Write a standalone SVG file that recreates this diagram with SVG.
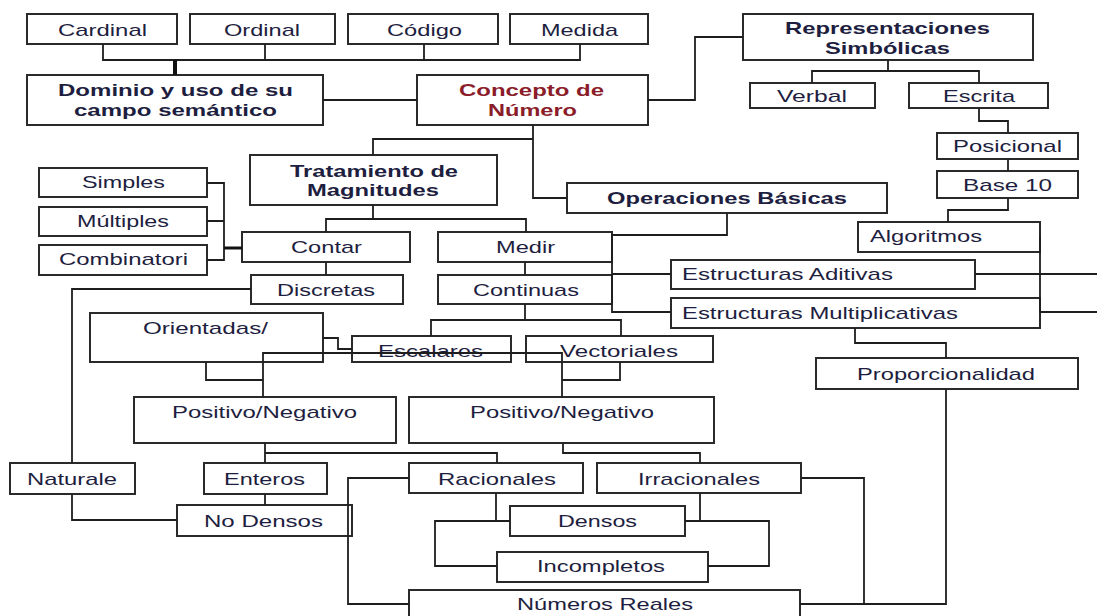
<svg xmlns="http://www.w3.org/2000/svg" width="1097" height="616" viewBox="0 0 1097 616">
<style>
.b{fill:#fff;stroke:#2a2a2a;stroke-width:2}
.t{font-family:"Liberation Sans",Arial,sans-serif;font-size:17px;fill:#1e1e40}
.h{font-weight:bold}
.r{fill:#8b1c2a}
.c{fill:none;stroke:#1e1e1e;stroke-width:1.8}
.k{fill:none;stroke:#111;stroke-width:4}
</style>
<rect width="1097" height="616" fill="#fff"/>
<g id="nodes">
<g id="cardinal"><rect class="b" x="27" y="14" width="150" height="30"/><text class="t" x="58" y="36" textLength="89" lengthAdjust="spacingAndGlyphs">Cardinal</text></g>
<g id="ordinal"><rect class="b" x="190" y="14" width="145" height="30"/><text class="t" x="224" y="36" textLength="76" lengthAdjust="spacingAndGlyphs">Ordinal</text></g>
<g id="codigo"><rect class="b" x="348" y="14" width="150" height="30"/><text class="t" x="387" y="36" textLength="75" lengthAdjust="spacingAndGlyphs">Código</text></g>
<g id="medida"><rect class="b" x="510" y="14" width="138" height="30"/><text class="t" x="541" y="36" textLength="77" lengthAdjust="spacingAndGlyphs">Medida</text></g>
<g id="dominio"><rect class="b" x="27" y="75" width="296" height="50"/><text class="t h" x="58" y="96" textLength="235" lengthAdjust="spacingAndGlyphs">Dominio y uso de su</text><text class="t h" x="74" y="116" textLength="203" lengthAdjust="spacingAndGlyphs">campo semántico</text></g>
<g id="concepto"><rect class="b" x="417" y="75" width="231" height="50"/><text class="t h r" x="459" y="96" textLength="145" lengthAdjust="spacingAndGlyphs">Concepto de</text><text class="t h r" x="488" y="116" textLength="89" lengthAdjust="spacingAndGlyphs">Número</text></g>
<g id="representaciones"><rect class="b" x="743" y="14" width="290" height="46"/><text class="t h" x="785" y="34" textLength="205" lengthAdjust="spacingAndGlyphs">Representaciones</text><text class="t h" x="825" y="54" textLength="125" lengthAdjust="spacingAndGlyphs">Simbólicas</text></g>
<g id="verbal"><rect class="b" x="750" y="83" width="125" height="25"/><text class="t" x="777" y="102" textLength="70" lengthAdjust="spacingAndGlyphs">Verbal</text></g>
<g id="escrita"><rect class="b" x="909" y="83" width="139" height="25"/><text class="t" x="943" y="102" textLength="72" lengthAdjust="spacingAndGlyphs">Escrita</text></g>
<g id="posicional"><rect class="b" x="937" y="133" width="141" height="26"/><text class="t" x="953" y="152" textLength="109" lengthAdjust="spacingAndGlyphs">Posicional</text></g>
<g id="base10"><rect class="b" x="937" y="171" width="141" height="27"/><text class="t" x="963" y="191" textLength="89" lengthAdjust="spacingAndGlyphs">Base 10</text></g>
<g id="algoritmos"><rect class="b" x="858" y="222" width="182" height="30"/><text class="t" x="870" y="242" textLength="112" lengthAdjust="spacingAndGlyphs">Algoritmos</text></g>
<g id="aditivas"><rect class="b" x="671" y="260" width="304" height="29"/><text class="t" x="682" y="280" textLength="211" lengthAdjust="spacingAndGlyphs">Estructuras Aditivas</text></g>
<g id="multiplicativas"><rect class="b" x="671" y="298" width="369" height="30"/><text class="t" x="682" y="319" textLength="276" lengthAdjust="spacingAndGlyphs">Estructuras Multiplicativas</text></g>
<g id="proporcionalidad"><rect class="b" x="816" y="358" width="262" height="31"/><text class="t" x="857" y="380" textLength="178" lengthAdjust="spacingAndGlyphs">Proporcionalidad</text></g>
<g id="operaciones"><rect class="b" x="567" y="183" width="320" height="30"/><text class="t h" x="607" y="204" textLength="240" lengthAdjust="spacingAndGlyphs">Operaciones Básicas</text></g>
<g id="tratamiento"><rect class="b" x="250" y="155" width="247" height="50"/><text class="t h" x="290" y="177" textLength="168" lengthAdjust="spacingAndGlyphs">Tratamiento de</text><text class="t h" x="307" y="196" textLength="132" lengthAdjust="spacingAndGlyphs">Magnitudes</text></g>
<g id="simples"><rect class="b" x="39" y="168" width="168" height="29"/><text class="t" x="82" y="188" textLength="83" lengthAdjust="spacingAndGlyphs">Simples</text></g>
<g id="multiples"><rect class="b" x="39" y="207" width="168" height="29"/><text class="t" x="77" y="227" textLength="92" lengthAdjust="spacingAndGlyphs">Múltiples</text></g>
<g id="combinatori"><rect class="b" x="39" y="245" width="168" height="30"/><text class="t" x="59" y="265" textLength="129" lengthAdjust="spacingAndGlyphs">Combinatori</text></g>
<g id="contar"><rect class="b" x="242" y="232" width="168" height="30"/><text class="t" x="291" y="253" textLength="71" lengthAdjust="spacingAndGlyphs">Contar</text></g>
<g id="discretas"><rect class="b" x="251" y="275" width="152" height="29"/><text class="t" x="277" y="296" textLength="98" lengthAdjust="spacingAndGlyphs">Discretas</text></g>
<g id="medir"><rect class="b" x="438" y="232" width="174" height="30"/><text class="t" x="496" y="253" textLength="59" lengthAdjust="spacingAndGlyphs">Medir</text></g>
<g id="continuas"><rect class="b" x="438" y="275" width="174" height="29"/><text class="t" x="473" y="296" textLength="106" lengthAdjust="spacingAndGlyphs">Continuas</text></g>
<g id="orientadas"><rect class="b" x="90" y="313" width="233" height="49"/><text class="t" x="143" y="334" textLength="125" lengthAdjust="spacingAndGlyphs">Orientadas/</text></g>
<g id="escalares"><rect class="b" x="352" y="336" width="159" height="26"/><text class="t" x="378" y="357" textLength="105" lengthAdjust="spacingAndGlyphs">Escalares</text></g>
<g id="vectoriales"><rect class="b" x="526" y="336" width="187" height="26"/><text class="t" x="560" y="357" textLength="118" lengthAdjust="spacingAndGlyphs">Vectoriales</text></g>
<g id="posneg1"><rect class="b" x="134" y="397" width="262" height="46"/><text class="t" x="172" y="418" textLength="185" lengthAdjust="spacingAndGlyphs">Positivo/Negativo</text></g>
<g id="posneg2"><rect class="b" x="409" y="397" width="305" height="46"/><text class="t" x="470" y="418" textLength="184" lengthAdjust="spacingAndGlyphs">Positivo/Negativo</text></g>
<g id="naturale"><rect class="b" x="10" y="463" width="125" height="31"/><text class="t" x="27" y="485" textLength="90" lengthAdjust="spacingAndGlyphs">Naturale</text></g>
<g id="enteros"><rect class="b" x="204" y="463" width="123" height="31"/><text class="t" x="224" y="485" textLength="81" lengthAdjust="spacingAndGlyphs">Enteros</text></g>
<g id="nodensos"><rect class="b" x="177" y="505" width="175" height="31"/><text class="t" x="204" y="527" textLength="119" lengthAdjust="spacingAndGlyphs">No Densos</text></g>
<g id="racionales"><rect class="b" x="409" y="463" width="174" height="30"/><text class="t" x="438" y="485" textLength="118" lengthAdjust="spacingAndGlyphs">Racionales</text></g>
<g id="irracionales"><rect class="b" x="597" y="463" width="204" height="30"/><text class="t" x="638" y="485" textLength="122" lengthAdjust="spacingAndGlyphs">Irracionales</text></g>
<g id="densos"><rect class="b" x="510" y="506" width="175" height="30"/><text class="t" x="558" y="527" textLength="79" lengthAdjust="spacingAndGlyphs">Densos</text></g>
<g id="incompletos"><rect class="b" x="497" y="552" width="211" height="30"/><text class="t" x="537" y="572" textLength="128" lengthAdjust="spacingAndGlyphs">Incompletos</text></g>
<g id="reales"><rect class="b" x="409" y="590" width="391" height="40"/><text class="t" x="517" y="610" textLength="176" lengthAdjust="spacingAndGlyphs">Números Reales</text></g>
</g>
<g id="connectors">
<path class="c" d="M103,44V60H580V44M265,44V60M424,44V60"/>
<path class="k" d="M175,60V75"/>
<path class="c" d="M323,100H417"/>
<path class="c" d="M648,100H695V37H743"/>
<path class="c" d="M888,60V71M812,83V71H979V83"/>
<path class="c" d="M979,108V121H1008V133"/>
<path class="c" d="M1008,159V171"/>
<path class="c" d="M1008,198V210H948V222"/>
<path class="c" d="M533,125V139H373V155M533,139V198H567"/>
<path class="c" d="M727,213V235H612V312H671M612,274H671"/>
<path class="c" d="M1040,237V312H1097M975,274H1097"/>
<path class="c" d="M855,328V343H946V358"/>
<path class="c" d="M946,389V604H800"/>
<path class="c" d="M373,205V219M326,232V219H526V232"/>
<path class="c" d="M326,262V275M525,262V275"/>
<path class="c" d="M207,183H224V260H207M207,221H224"/>
<path class="k" d="M224,248H242" style="stroke-width:3"/>
<path class="c" d="M251,289H72V463"/>
<path class="c" d="M72,494V520H177"/>
<path class="c" d="M525,304V320M431,336V320H621V336"/>
<path class="c" d="M323,338H338V349H352"/>
<path class="c" d="M263,397V353H562V397"/>
<path class="c" d="M206,362V380H263M620,362V380H562"/>
<path class="c" d="M265,443V463M265,453H497V463"/>
<path class="c" d="M265,494V505"/>
<path class="c" d="M563,443V453H700V463"/>
<path class="c" d="M496,493V521M510,521H435V566H497"/>
<path class="c" d="M700,493V521M685,521H769V566H708"/>
<path class="c" d="M409,478H348V604H409"/>
<path class="c" d="M801,478H864V604H800"/>
</g>
</svg>
